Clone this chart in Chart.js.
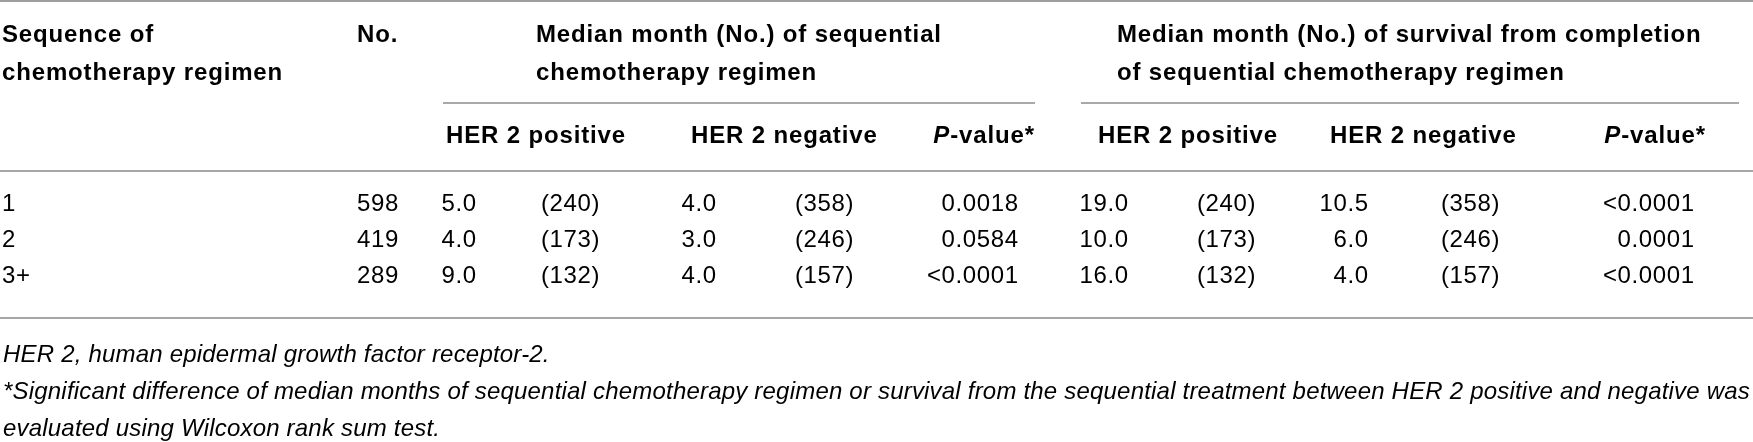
<!DOCTYPE html>
<html>
<head>
<meta charset="utf-8">
<title>Sequential chemotherapy regimen by HER 2 status</title>
<script src="https://cdn.jsdelivr.net/npm/chart.js@4.4.1/dist/chart.umd.min.js"></script>
<style>
    html, body { margin: 0; padding: 0; background: #fff; }
    canvas { display: block; }
</style>
</head>
<body>
<canvas id="tableChart" width="1753" height="442"></canvas>
<script>
// Table values
const sequences = ['1', '2', '3+'];
const patientCounts = [598, 419, 289];
const regimenPosMonths = [5.0, 4.0, 9.0];
const regimenPosCounts = [240, 173, 132];
const regimenNegMonths = [4.0, 3.0, 4.0];
const regimenNegCounts = [358, 246, 157];
const regimenPValues = ['0.0018', '0.0584', '<0.0001'];
const survivalPosMonths = [19.0, 10.0, 16.0];
const survivalPosCounts = [240, 173, 132];
const survivalNegMonths = [10.5, 6.0, 4.0];
const survivalNegCounts = [358, 246, 157];
const survivalPValues = ['<0.0001', '0.0001', '<0.0001'];

// Header and footnote texts
const sequenceHeader = ['Sequence of', 'chemotherapy regimen'];
const countHeader = 'No.';
const regimenHeader = ['Median month (No.) of sequential', 'chemotherapy regimen'];
const survivalHeader = ['Median month (No.) of survival from completion', 'of sequential chemotherapy regimen'];
const subHeaders = ['HER 2 positive', 'HER 2 negative'];
const footnotes = [
    'HER 2, human epidermal growth factor receptor-2.',
    '*Significant difference of median months of sequential chemotherapy regimen or survival from the sequential treatment between HER 2 positive and negative was',
    'evaluated using Wilcoxon rank sum test.'
];

const W = 1753;
const H = 442;
const ROW_Y = 211;
const ROW_STEP = 36;
const FONT_BOLD = 'bold 24px "Liberation Sans", Arial, sans-serif';
const FONT_BOLD_IT = 'italic bold 24px "Liberation Sans", Arial, sans-serif';
const FONT_BODY = '24px "Liberation Sans", Arial, sans-serif';
const FONT_NOTE = 'italic 24px "Liberation Sans", Arial, sans-serif';
const LS_BOLD = 0.85;
const LS_BODY = 0.6;
const LS_NOTE = 0.2;

const month = v => v.toFixed(1);
const count = v => '(' + v + ')';

// column layout: where each value column sits and how it is aligned
const columns = [
    { values: sequences, x: 2, align: 'left', fmt: String },
    { values: patientCounts, x: 357, align: 'left', fmt: String },
    { values: regimenPosMonths, x: 476, align: 'right', fmt: month },
    { values: regimenPosCounts, x: 541, align: 'left', fmt: count },
    { values: regimenNegMonths, x: 716, align: 'right', fmt: month },
    { values: regimenNegCounts, x: 795, align: 'left', fmt: count },
    { values: regimenPValues, x: 1018, align: 'right', fmt: String },
    { values: survivalPosMonths, x: 1128, align: 'right', fmt: month },
    { values: survivalPosCounts, x: 1197, align: 'left', fmt: count },
    { values: survivalNegMonths, x: 1368, align: 'right', fmt: month },
    { values: survivalNegCounts, x: 1441, align: 'left', fmt: count },
    { values: survivalPValues, x: 1694, align: 'right', fmt: String }
];

const datasets = columns.map(col => ({
    data: col.values.map((v, i) => ({ x: col.x, y: ROW_Y + i * ROW_STEP })),
    cells: col.values.map(col.fmt),
    align: col.align,
    pointRadius: 0,
    showLine: false
}));

function drawText(ctx, text, x, y, align, font, ls) {
    ctx.save();
    ctx.font = font;
    ctx.letterSpacing = ls + 'px';
    ctx.textAlign = align;
    ctx.textBaseline = 'alphabetic';
    ctx.fillStyle = '#000';
    ctx.fillText(text, align === 'right' ? x + ls : x, y);
    ctx.restore();
}

function textWidth(ctx, text, font, ls) {
    ctx.save();
    ctx.font = font;
    ctx.letterSpacing = ls + 'px';
    const w = ctx.measureText(text).width;
    ctx.restore();
    return w;
}

// "P-value*" with an italic P, right aligned
function drawPValueHead(ctx, xr, y) {
    const rest = '-value*';
    drawText(ctx, rest, xr, y, 'right', FONT_BOLD, LS_BOLD);
    const w = textWidth(ctx, rest, FONT_BOLD, LS_BOLD);
    drawText(ctx, 'P', xr - w, y, 'right', FONT_BOLD_IT, LS_BOLD);
}

const tablePlugin = {
    id: 'tableText',
    beforeDraw(chart) {
        const ctx = chart.ctx;
        ctx.save();
        ctx.fillStyle = '#fff';
        ctx.fillRect(0, 0, chart.width, chart.height);
        ctx.restore();
    },
    afterDatasetsDraw(chart) {
        const ctx = chart.ctx;
        const sx = chart.scales.x;
        const sy = chart.scales.y;
        const px = v => sx.getPixelForValue(v);
        const py = v => sy.getPixelForValue(v);

        const rule = (x0, x1, yy, lw, color) => {
            ctx.save();
            ctx.strokeStyle = color;
            ctx.lineWidth = lw;
            ctx.beginPath();
            ctx.moveTo(px(x0), py(yy));
            ctx.lineTo(px(x1), py(yy));
            ctx.stroke();
            ctx.restore();
        };
        rule(0, W, 1, 2, '#9e9e9e');
        rule(443, 1035, 103, 1.5, '#8c8c8c');
        rule(1081, 1739, 103, 1.5, '#8c8c8c');
        rule(0, W, 171, 2, '#a6a6a6');
        rule(0, W, 318, 2, '#a6a6a6');

        // header block
        drawText(ctx, sequenceHeader[0], px(2), py(42), 'left', FONT_BOLD, LS_BOLD);
        drawText(ctx, sequenceHeader[1], px(2), py(80), 'left', FONT_BOLD, LS_BOLD);
        drawText(ctx, countHeader, px(357), py(42), 'left', FONT_BOLD, LS_BOLD);
        drawText(ctx, regimenHeader[0], px(536), py(42), 'left', FONT_BOLD, LS_BOLD);
        drawText(ctx, regimenHeader[1], px(536), py(80), 'left', FONT_BOLD, LS_BOLD);
        drawText(ctx, survivalHeader[0], px(1117), py(42), 'left', FONT_BOLD, LS_BOLD);
        drawText(ctx, survivalHeader[1], px(1117), py(80), 'left', FONT_BOLD, LS_BOLD);

        drawText(ctx, subHeaders[0], px(446), py(143), 'left', FONT_BOLD, LS_BOLD);
        drawText(ctx, subHeaders[1], px(691), py(143), 'left', FONT_BOLD, LS_BOLD);
        drawPValueHead(ctx, px(1034), py(143));
        drawText(ctx, subHeaders[0], px(1098), py(143), 'left', FONT_BOLD, LS_BOLD);
        drawText(ctx, subHeaders[1], px(1330), py(143), 'left', FONT_BOLD, LS_BOLD);
        drawPValueHead(ctx, px(1705), py(143));

        // body cells at the positions the scales gave the points
        chart.data.datasets.forEach((ds, di) => {
            const meta = chart.getDatasetMeta(di);
            meta.data.forEach((pt, i) => {
                drawText(ctx, ds.cells[i], pt.x, pt.y, ds.align, FONT_BODY, LS_BODY);
            });
        });

        // footnotes
        footnotes.forEach((t, i) => {
            drawText(ctx, t, px(3), py(362 + i * 37), 'left', FONT_NOTE, LS_NOTE);
        });
    }
};

const ctx = document.getElementById('tableChart').getContext('2d');
const tableChart = new Chart(ctx, {
    type: 'scatter',
    data: { datasets: datasets },
    options: {
        responsive: false,
        animation: false,
        devicePixelRatio: 1,
        events: [],
        layout: { padding: 0 },
        scales: {
            x: { type: 'linear', min: 0, max: W, display: false },
            y: { type: 'linear', min: 0, max: H, reverse: true, display: false }
        },
        plugins: {
            legend: { display: false },
            tooltip: { enabled: false }
        }
    },
    plugins: [tablePlugin]
});
</script>
</body>
</html>
